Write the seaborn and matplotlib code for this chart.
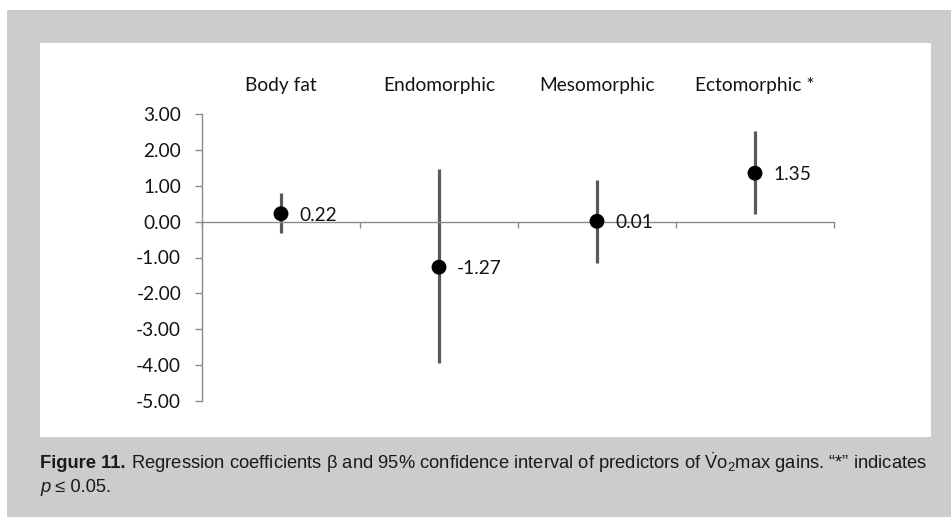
import numpy as np
import pandas as pd
import matplotlib
matplotlib.use("Agg")
import matplotlib.pyplot as plt
from matplotlib.patches import Rectangle
import seaborn as sns

# values
predictors = ["Body fat", "Endomorphic", "Mesomorphic", "Ectomorphic *"]
beta = [0.22, -1.27, 0.01, 1.35]
ci_low = [-0.33, -3.93, -1.14, 0.22]
ci_high = [0.81, 1.48, 1.17, 2.53]
yticks = [3, 2, 1, 0, -1, -2, -3, -4, -5]

df = pd.DataFrame({"pred": predictors, "beta": beta, "lo": ci_low, "hi": ci_high})
df["x"] = np.arange(len(df))

sns.set_style("white")
plt.rcParams["font.family"] = ["Lato", "DejaVu Sans"]
plt.rcParams["mathtext.fontset"] = "custom"
plt.rcParams["mathtext.rm"] = "Liberation Sans"

W, H = 951, 517
fig = plt.figure(figsize=(W / 100, H / 100), dpi=100, facecolor="white")

# grey frame and white panel behind the chart
fig.patches.append(Rectangle((7 / W, 0), 1 - 7 / W, (H - 10) / H, transform=fig.transFigure,
                             facecolor="#cccccc", edgecolor="none", zorder=-2))
fig.patches.append(Rectangle((40 / W, (H - 437) / H), (931 - 40) / W, (437 - 43) / H,
                             transform=fig.transFigure, facecolor="white", edgecolor="none", zorder=-1))

ax = fig.add_axes([202 / W, (H - 401) / H, 632 / W, 287 / H])
ax.patch.set_alpha(0)

txt = "#141414"
fs = 13.8

ax.vlines(df["x"], df["lo"], df["hi"], color="#595959", linewidth=2.3, zorder=2)
sns.scatterplot(data=df, x="x", y="beta", ax=ax, color="black", s=115,
                edgecolor="none", zorder=3, legend=False)

for _, r in df.iterrows():
    ax.annotate(f"{r['beta']:.2f}", (r["x"], r["beta"]), xytext=(13, -1),
                textcoords="offset points", va="center", ha="left", fontsize=fs, color=txt)
    ax.text(r["x"], 1.1, r["pred"], transform=ax.get_xaxis_transform(),
            ha="center", va="center", fontsize=fs, color=txt)

ax.set_xlim(-0.5, len(df) - 0.5)
ax.set_ylim(-5, 3)
ax.set_yticks(yticks)
ax.set_yticklabels([f"{v:.2f}" for v in yticks], fontsize=fs, color=txt)
ax.set_xticks(np.arange(len(df) + 1) - 0.5)
ax.set_xticklabels([])
ax.set_xlabel("")
ax.set_ylabel("")

for s in ["top", "right"]:
    ax.spines[s].set_visible(False)
ax.spines["bottom"].set_position(("data", 0))
for s in ["left", "bottom"]:
    ax.spines[s].set_color("#8a8a8a")
    ax.spines[s].set_linewidth(1.0)
ax.tick_params(axis="y", direction="out", length=5, width=1, color="#8a8a8a", pad=10, left=True)
ax.tick_params(axis="x", direction="out", length=4, width=1, color="#8a8a8a", bottom=True)

# caption
cap_font = ["Liberation Sans", "DejaVu Sans"]
cap_size = 13.2
caption = (" Regression coefficients \u03b2 and 95% confidence interval of predictors of "
           + r"$\dot{\mathrm{V}}\mathrm{o}_2$"
           + "max gains. \u201c*\u201d indicates")
t1 = fig.text(40 / W, (H - 463) / H, "Figure 11.", family=cap_font, fontweight="bold",
              fontsize=cap_size, va="center", ha="left", color="#1a1a1a")
ax.annotate(caption, xy=(1, 0.5), xycoords=t1, va="center", ha="left", family=cap_font,
            fontsize=cap_size, color="#1a1a1a", annotation_clip=False)
t2 = fig.text(40 / W, (H - 487) / H, "p", family=cap_font, style="italic",
              fontsize=cap_size, va="center", ha="left", color="#1a1a1a")
ax.annotate(" \u2264 0.05.", xy=(1, 0.5), xycoords=t2, va="center", ha="left",
            family=cap_font, fontsize=cap_size, color="#1a1a1a", annotation_clip=False)

fig.savefig("out.png", dpi=100, facecolor=fig.get_facecolor())
